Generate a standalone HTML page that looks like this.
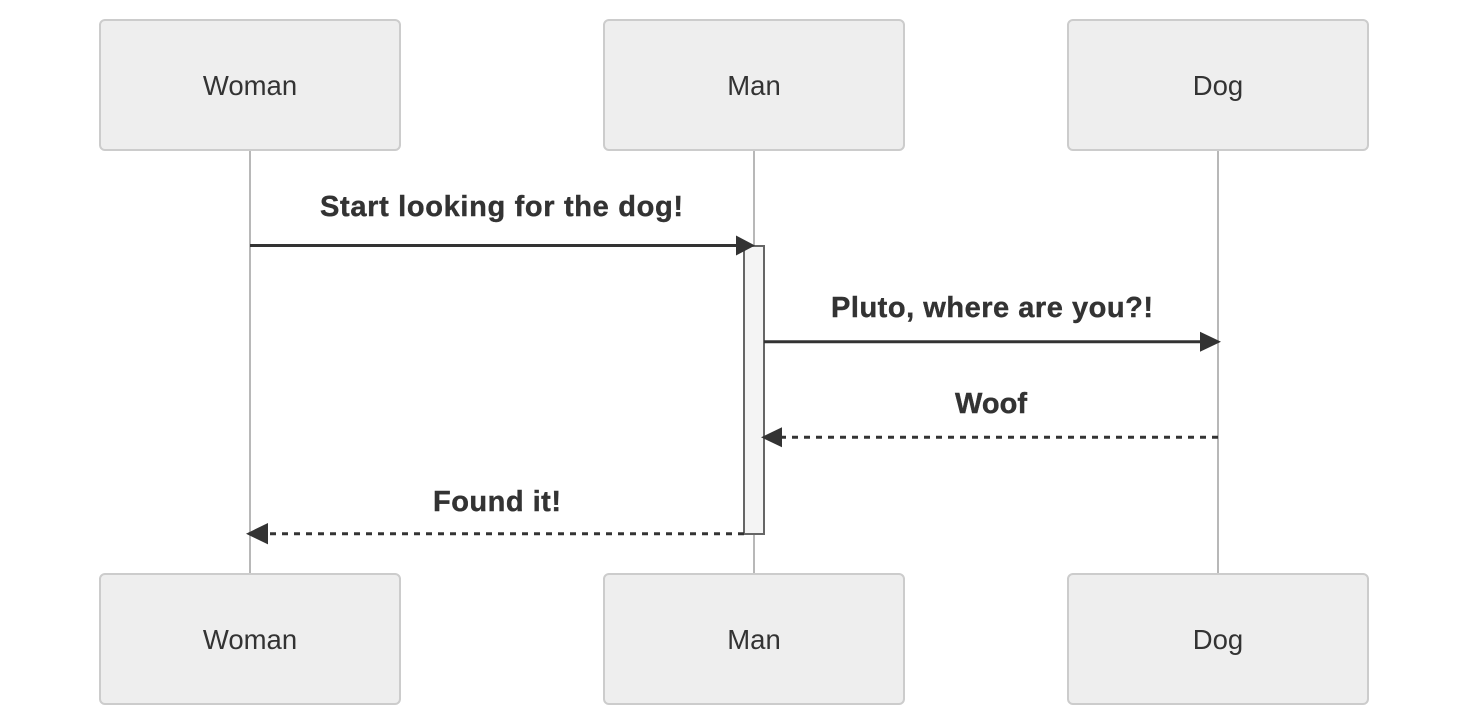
<!DOCTYPE html>
<html>
<head>
<meta charset="utf-8">
<style>
  html, body { margin: 0; padding: 0; background: #ffffff; }
  svg { display: block; }
  .actor { fill: #eeeeee; stroke: #cccccc; stroke-width: 2; }
  .atext { font-family: "Liberation Sans", Arial, sans-serif; font-size: 27.5px; fill: #333333; }
  .life { stroke: #b8b8b8; stroke-width: 2; }
  .msg { font-family: "Liberation Sans", Arial, sans-serif; font-size: 29px; font-weight: bold; fill: #333333; stroke: #333333; stroke-width: 0.4; }
  .line { stroke: #333333; stroke-width: 3; fill: none; }
  .dash { stroke: #333333; stroke-width: 3; fill: none; stroke-dasharray: 6 6; }
</style>
</head>
<body>
<svg width="1468" height="706" viewBox="0 0 1468 706" xmlns="http://www.w3.org/2000/svg">
  <!-- lifelines -->
  <line class="life" x1="250" y1="150" x2="250" y2="574"/>
  <line class="life" x1="754" y1="150" x2="754" y2="574"/>
  <line class="life" x1="1218" y1="150" x2="1218" y2="574"/>

  <!-- top actors -->
  <rect class="actor" x="100" y="20" width="300" height="130" rx="5" ry="5"/>
  <text class="atext" x="250" y="95" text-anchor="middle">Woman</text>
  <rect class="actor" x="604" y="20" width="300" height="130" rx="5" ry="5"/>
  <text class="atext" x="754" y="95" text-anchor="middle">Man</text>
  <rect class="actor" x="1068" y="20" width="300" height="130" rx="5" ry="5"/>
  <text class="atext" x="1218" y="95" text-anchor="middle">Dog</text>

  <!-- bottom actors -->
  <rect class="actor" x="100" y="574" width="300" height="130" rx="5" ry="5"/>
  <text class="atext" x="250" y="649" text-anchor="middle">Woman</text>
  <rect class="actor" x="604" y="574" width="300" height="130" rx="5" ry="5"/>
  <text class="atext" x="754" y="649" text-anchor="middle">Man</text>
  <rect class="actor" x="1068" y="574" width="300" height="130" rx="5" ry="5"/>
  <text class="atext" x="1218" y="649" text-anchor="middle">Dog</text>

  <!-- activation -->
  <rect x="744" y="246" width="20" height="288" fill="#f4f4f4" stroke="#666666" stroke-width="2"/>

  <!-- message 1 -->
  <text class="msg" x="320" y="216" textLength="363">Start looking for the dog!</text>
  <line class="line" x1="250" y1="245.5" x2="740" y2="245.5"/>
  <polygon points="736,235.5 755,245.5 736,255.5" fill="#333333"/>

  <!-- message 2 -->
  <text class="msg" x="831" y="317" textLength="322">Pluto, where are you?!</text>
  <line class="line" x1="764" y1="341.7" x2="1205" y2="341.7"/>
  <polygon points="1200,331.7 1221,341.7 1200,351.7" fill="#333333"/>

  <!-- message 3 -->
  <text class="msg" x="955" y="413" textLength="72">Woof</text>
  <line class="dash" x1="1218" y1="437.3" x2="778" y2="437.3"/>
  <polygon points="782,427.3 761,437.3 782,447.3" fill="#333333"/>

  <!-- message 4 -->
  <text class="msg" x="433" y="511" textLength="128">Found it!</text>
  <line class="dash" x1="744" y1="533.7" x2="264" y2="533.7"/>
  <polygon points="268,523 246,533.7 268,544.4" fill="#333333"/>
</svg>
</body>
</html>
